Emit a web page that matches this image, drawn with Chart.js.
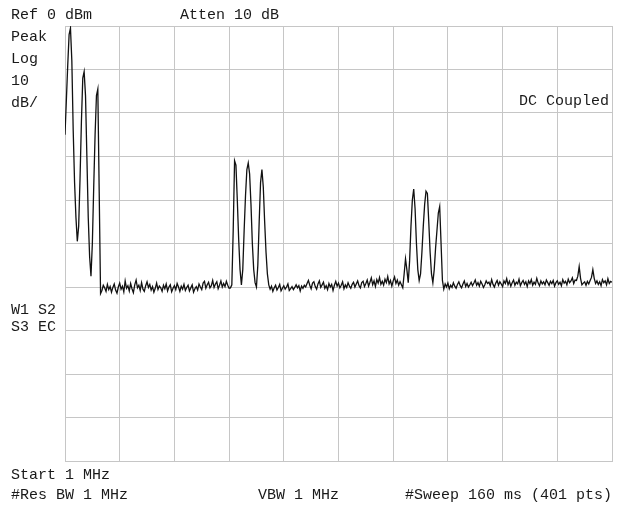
<!DOCTYPE html>
<html>
<head>
<meta charset="utf-8">
<script src="https://cdn.jsdelivr.net/npm/chart.js@4/dist/chart.umd.min.js"></script>
<style>
  html, body { margin: 0; padding: 0; background: #fff; }
  #wrap { position: relative; width: 621px; height: 510px; background: #fff; }
  #wrap canvas { position: absolute; left: 0; top: 0; }
  .lbl {
    position: absolute;
    font-family: "Liberation Mono", "DejaVu Sans Mono", monospace;
    font-size: 15px;
    line-height: 15px;
    color: #1a1a1a;
    white-space: pre;
  }
</style>
</head>
<body>
<div id="wrap">
  <canvas id="spectrum" width="621" height="510"></canvas>
  <div class="lbl" style="left:11px; top:8px;">Ref 0 dBm</div>
  <div class="lbl" style="left:180px; top:8px;">Atten 10 dB</div>
  <div class="lbl" style="left:11px; top:30px;">Peak</div>
  <div class="lbl" style="left:11px; top:52px;">Log</div>
  <div class="lbl" style="left:11px; top:74px;">10</div>
  <div class="lbl" style="left:11px; top:96px;">dB/</div>
  <div class="lbl" style="right:12px; top:94px;">DC Coupled</div>
  <div class="lbl" style="left:11px; top:303px;">W1 S2</div>
  <div class="lbl" style="left:11px; top:320px;">S3 EC</div>
  <div class="lbl" style="left:11px; top:468px;">Start 1 MHz</div>
  <div class="lbl" style="left:11px; top:488px;">#Res BW 1 MHz</div>
  <div class="lbl" style="left:258px; top:488px;">VBW 1 MHz</div>
  <div class="lbl" style="left:405px; top:488px;">#Sweep 160 ms (401 pts)</div>
</div>
<script>
// Display settings (Ref 0 dBm, 10 dB/div, 401 sweep points)
const refLevel = 0;
const bottomLevel = -100;
const dbPerDiv = 10;
const lastPoint = 400;
const pointsPerDiv = 40;

// Trace in dBm, one value per sweep point (0..400)
const trace = [
    -25, -17, -9, -2, -0.5, -8, -24, -36, -44, -49.5, -46, -35, -22, -12, -10.5, -16, -30, -44, -53, -57.5,
    -50, -37, -25, -16, -14.5, -38, -61.5, -60.8, -59.6, -60.2, -61.0, -59.4, -60.6, -59.9, -61.2, -60.1, -59.3, -60.7, -61.4, -60.0,
    -59.1, -60.5, -59.8, -61.1, -58.6, -60.3, -59.7, -60.9, -59.2, -60.4, -61.3, -59.5, -58.4, -60.2, -59.6, -60.8, -59.0, -60.5, -61.0, -59.7,
    -58.8, -60.1, -59.4, -60.7, -59.9, -61.2, -60.3, -59.1, -60.6, -59.8, -60.2, -61.0, -59.6, -60.4, -59.3, -60.9, -60.0, -59.5, -61.1, -60.3,
    -59.7, -60.6, -59.2, -60.0, -61.0, -59.8, -60.5, -59.4, -60.8, -60.1, -59.6, -60.9, -60.2, -59.5, -61.2, -60.4, -59.9, -60.7, -59.3, -60.0,
    -60.6, -59.1, -58.7, -60.3, -59.5, -58.9, -60.2, -59.7, -58.5, -60.1, -59.3, -58.8, -60.4, -59.6, -58.6, -60.0, -59.2, -59.9, -58.7, -59.6,
    -60.3, -60.2, -59.5, -47, -31, -32, -40, -49, -56, -59.5, -56, -47, -39, -33, -31.5, -34, -41, -50, -56, -59,
    -60, -55, -45, -36, -33, -37, -45, -52, -57, -59.5, -60.5, -59.8, -61.0, -60.2, -59.6, -60.7, -60.1, -59.4, -60.9, -60.3,
    -59.7, -60.5, -60.0, -59.3, -60.8, -60.4, -59.9, -60.6, -60.1, -59.5, -60.2, -59.7, -60.9, -59.8, -60.3, -59.6, -60.0, -59.2, -58.5, -59.6,
    -60.4, -59.1, -58.8, -59.9, -60.5, -59.3, -58.6, -60.1, -59.5, -58.9, -60.3, -59.7, -60.6, -59.2, -60.0, -59.4, -60.8, -59.6, -58.7, -59.8,
    -59.1, -60.2, -59.6, -58.8, -60.4, -59.5, -60.1, -59.0, -59.8, -60.3, -59.4, -58.9, -60.0, -59.3, -58.6, -59.7, -60.2, -59.0, -58.7, -59.9,
    -59.2, -58.4, -59.8, -58.9, -57.9, -59.5, -58.6, -59.9, -58.3, -59.1, -57.8, -59.4, -58.7, -59.6, -58.2, -59.0, -57.6, -59.3, -58.5, -59.8,
    -58.6, -57.7, -59.2, -58.4, -59.6, -58.8, -59.5, -60.2, -57, -53.5, -56, -59, -54, -46, -40, -37.5, -42, -50, -56, -58.5,
    -57, -52, -46, -41, -38, -38.5, -45, -52, -57, -59, -56, -51, -47, -43, -41.5, -50, -58.5, -60.5, -59.3, -60.0,
    -59.1, -60.4, -59.6, -60.1, -59.0, -59.8, -60.3, -59.4, -58.8, -59.7, -60.2, -59.3, -58.6, -59.9, -59.2, -60.0, -59.5, -58.9, -59.7, -59.1,
    -58.4, -59.6, -59.0, -59.8, -58.7, -59.3, -60.1, -59.5, -58.6, -59.2, -58.9, -59.7, -58.3, -59.4, -60.0, -59.1, -58.5, -59.6, -58.8, -59.3,
    -59.9, -58.6, -59.2, -58.1, -59.5, -58.7, -59.8, -59.0, -58.4, -59.6, -58.9, -59.3, -58.2, -59.7, -59.0, -58.5, -59.4, -58.8, -59.9, -58.6,
    -59.2, -58.3, -59.6, -58.9, -59.4, -58.0, -59.1, -59.7, -58.6, -59.3, -58.8, -59.5, -58.4, -59.0, -59.6, -58.7, -59.2, -58.5, -59.8, -59.0,
    -58.6, -59.4, -58.9, -59.7, -58.3, -59.1, -58.7, -59.5, -58.2, -59.0, -58.6, -57.9, -59.2, -58.4, -58.5, -57.5, -55.3, -58, -59.5, -59.1,
    -58.8, -59.6, -58.7, -59.3, -58.5, -57.8, -56, -58, -59.2, -58.6, -59.4, -58.8, -59.7, -58.3, -59.0, -58.6, -59.5, -58.1, -59.2, -58.7,
    -58.9
];

document.addEventListener('DOMContentLoaded', function() {
    const ctx = document.getElementById('spectrum');
    const gridColor = '#c6c6c6';

    new Chart(ctx, {
        type: 'line',
        data: {
            datasets: [{
                data: trace.map((v, i) => ({ x: i, y: v })),
                borderColor: '#111111',
                borderWidth: 1.3,
                pointRadius: 0,
                tension: 0,
                fill: false
            }]
        },
        options: {
            responsive: false,
            animation: false,
            layout: {
                padding: { left: 65, top: 26, right: 9, bottom: 49 }
            },
            plugins: {
                legend: { display: false },
                tooltip: { enabled: false }
            },
            scales: {
                x: {
                    type: 'linear',
                    min: 0,
                    max: lastPoint,
                    ticks: { display: false, stepSize: pointsPerDiv },
                    grid: { color: gridColor, drawTicks: false },
                    border: { color: gridColor }
                },
                y: {
                    min: bottomLevel,
                    max: refLevel,
                    ticks: { display: false, stepSize: dbPerDiv },
                    grid: { color: gridColor, drawTicks: false },
                    border: { color: gridColor }
                }
            }
        }
    });
});
</script>
</body>
</html>
